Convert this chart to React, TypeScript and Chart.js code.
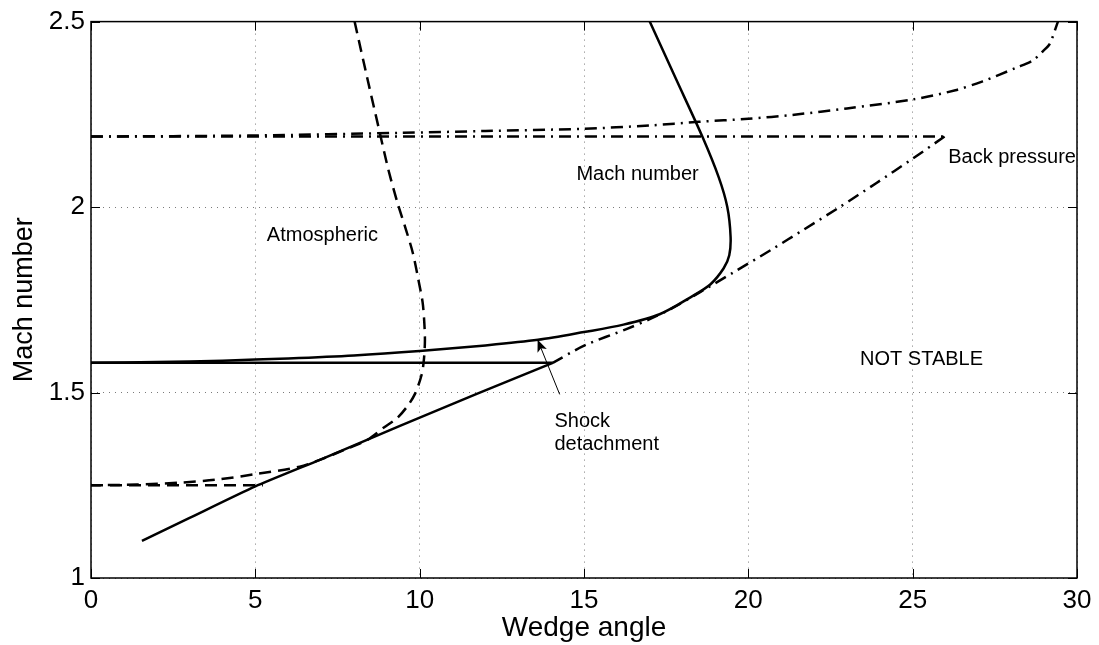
import React, { useEffect, useRef } from "react";
import { Chart, registerables } from "chart.js";

Chart.register(...registerables);

// ---------- data ----------
const xTicks = [0, 5, 10, 15, 20, 25, 30];
const yTicks = [1, 1.5, 2, 2.5];

// Solid "Mach number" curve (C-shaped)
const machX = [17.0, 17.8, 18.6, 19.1, 19.36, 19.46, 19.42, 19.25, 18.85, 18.3, 17.3, 16.2, 15.0, 13.6, 12.0, 10.0, 8.0, 6.0, 4.0, 2.0, 0];
const machY = [2.5, 2.345, 2.19, 2.08, 2.0, 1.92, 1.87, 1.835, 1.792, 1.76, 1.711, 1.683, 1.663, 1.642, 1.627, 1.612, 1.6, 1.592, 1.586, 1.582, 1.58];

// Solid horizontal line
const solidFlatX = [0, 14.05];
const solidFlatY = [1.58, 1.58];

// Solid lower line
const solidLowX = [1.55, 3.0, 5.0, 7.0, 9.4, 11.7, 14.05];
const solidLowY = [1.1, 1.162, 1.247, 1.32, 1.41, 1.495, 1.58];

// Dashed "Atmospheric" curve
const atmX = [8.02, 8.4, 8.78, 9.05, 9.33, 9.58, 9.79, 9.97, 10.09, 10.14, 10.16, 10.13, 10.06, 9.85, 9.6, 9.3, 8.9, 8.4, 7.7, 7.0, 6.35, 5.0, 3.8, 2.7, 1.4, 0];
const atmY = [2.5, 2.35, 2.203, 2.1, 2.01, 1.94, 1.877, 1.8, 1.743, 1.69, 1.64, 1.59, 1.548, 1.495, 1.46, 1.43, 1.405, 1.372, 1.345, 1.32, 1.3, 1.28, 1.265, 1.257, 1.252, 1.25];

// Dashed horizontal line
const atmFlatX = [0, 5.23];
const atmFlatY = [1.25, 1.25];

// Dash-dot "Back pressure" horizontal line
const backFlatX = [0, 25.97];
const backFlatY = [2.19, 2.19];

// Dash-dot return curve (lower)
const backLowX = [25.97, 24.99, 23.9, 22.78, 21.7, 20.7, 19.53, 18.52, 17.7, 17.0, 16.29, 15.02, 14.05];
const backLowY = [2.19, 2.13, 2.065, 2.0, 1.94, 1.885, 1.823, 1.77, 1.728, 1.698, 1.671, 1.627, 1.58];

// Dash-dot upper curve
const backHighX = [0, 5, 9.4, 12, 14.95, 17, 18.5, 20, 21.4, 23, 25, 26.3, 27.13, 28.16, 28.65, 28.96, 29.17, 29.42];
const backHighY = [2.19, 2.193, 2.2, 2.205, 2.211, 2.22, 2.23, 2.238, 2.249, 2.266, 2.29, 2.315, 2.339, 2.376, 2.395, 2.42, 2.44, 2.5];

// Arrow (tail -> tip)
const arrowX = [14.26, 13.59];
const arrowY = [1.495, 1.642];

// Text annotations (left x, baseline y, in data units)
const noteText = ["Atmospheric", "Mach number", "Back pressure", "NOT STABLE", "Shock", "detachment"];
const noteX = [5.35, 14.77, 26.08, 23.4, 14.1, 14.1];
const noteY = [1.909, 2.072, 2.12, 1.575, 1.406, 1.345];

const xTitle = "Wedge angle";
const yTitle = "Mach number";

// ---------- helpers ----------
const FONT = "'Liberation Sans', Arial, Helvetica, sans-serif";
const pts = (xs: number[], ys: number[]) => xs.map((x, i) => ({ x, y: ys[i] }));

const DASH = [12, 7];
const DASHDOT = [12, 6, 2, 6];

const overlayPlugin = {
  id: "matlabOverlay",
  afterDraw(chart: any) {
    const { ctx, chartArea: a } = chart;
    const xs = chart.scales.x;
    const ys = chart.scales.y;
    ctx.save();

    // arrowhead
    const tx = xs.getPixelForValue(arrowX[1]);
    const ty = ys.getPixelForValue(arrowY[1]);
    const sx = xs.getPixelForValue(arrowX[0]);
    const sy = ys.getPixelForValue(arrowY[0]);
    const ang = Math.atan2(ty - sy, tx - sx);
    const L = 12, W = 5, N = 9;
    ctx.fillStyle = "#000";
    ctx.beginPath();
    ctx.moveTo(tx, ty);
    ctx.lineTo(tx - L * Math.cos(ang) + W * Math.sin(ang), ty - L * Math.sin(ang) - W * Math.cos(ang));
    ctx.lineTo(tx - N * Math.cos(ang), ty - N * Math.sin(ang));
    ctx.lineTo(tx - L * Math.cos(ang) - W * Math.sin(ang), ty - L * Math.sin(ang) + W * Math.cos(ang));
    ctx.closePath();
    ctx.fill();

    // annotations
    ctx.font = "20px " + FONT;
    ctx.fillStyle = "#000";
    ctx.textAlign = "left";
    ctx.textBaseline = "alphabetic";
    noteText.forEach((t, i) => {
      ctx.fillText(t, xs.getPixelForValue(noteX[i]), ys.getPixelForValue(noteY[i]));
    });

    // frame
    ctx.strokeStyle = "#000";
    ctx.lineWidth = 1.5;
    ctx.strokeRect(a.left, a.top, a.right - a.left, a.bottom - a.top);

    // inward tick marks
    ctx.lineWidth = 1;
    const tl = 9;
    ctx.beginPath();
    xTicks.forEach((v) => {
      const p = Math.round(xs.getPixelForValue(v)) + 0.5;
      ctx.moveTo(p, a.bottom);
      ctx.lineTo(p, a.bottom - tl);
      ctx.moveTo(p, a.top);
      ctx.lineTo(p, a.top + tl);
    });
    yTicks.forEach((v) => {
      const p = Math.round(ys.getPixelForValue(v)) + 0.5;
      ctx.moveTo(a.left, p);
      ctx.lineTo(a.left + tl, p);
      ctx.moveTo(a.right, p);
      ctx.lineTo(a.right - tl, p);
    });
    ctx.stroke();
    ctx.restore();
  },
};

export default function App() {
  const ref = useRef<HTMLCanvasElement | null>(null);

  useEffect(() => {
    if (!ref.current) return;
    const line = (data: any[], dash: number[], width = 2.5, tension = 0.3) => ({
      data,
      showLine: true,
      borderColor: "#000",
      backgroundColor: "#000",
      borderWidth: width,
      borderDash: dash,
      pointRadius: 0,
      pointHoverRadius: 0,
      tension,
      fill: false,
    });

    const chart = new Chart(ref.current, {
      type: "scatter",
      data: {
        datasets: [
          line(pts(machX, machY), [], 2.5, 0.3),
          line(pts(solidFlatX, solidFlatY), [], 2.5, 0),
          line(pts(solidLowX, solidLowY), [], 2.5, 0.2),
          line(pts(atmX, atmY), DASH, 2.5, 0.3),
          line(pts(atmFlatX, atmFlatY), DASH, 2.5, 0),
          line(pts(backFlatX, backFlatY), DASHDOT, 2.5, 0),
          line(pts(backLowX, backLowY), DASHDOT, 2.5, 0.3),
          line(pts(backHighX, backHighY), DASHDOT, 2.5, 0.3),
          line(pts(arrowX, arrowY), [], 1, 0),
        ],
      },
      options: {
        responsive: false,
        animation: false,
        events: [],
        layout: { padding: { top: 17, right: 22, bottom: 0, left: 0 } },
        plugins: {
          legend: { display: false },
          tooltip: { enabled: false },
          title: { display: false },
        },
        scales: {
          x: {
            type: "linear",
            min: 0,
            max: 30,
            afterBuildTicks: (s: any) => {
              s.ticks = xTicks.map((v) => ({ value: v }));
            },
            afterFit: (s: any) => {
              s.height = 67;
            },
            ticks: {
              color: "#000",
              font: { family: FONT, size: 26 },
              padding: 7,
              maxRotation: 0,
              autoSkip: false,
              callback: (v: any) => String(v),
            },
            grid: { color: "#7a7a7a", lineWidth: 1, drawTicks: false },
            border: { display: false, dash: [1, 5] },
            title: {
              display: true,
              text: xTitle,
              color: "#000",
              font: { family: FONT, size: 28 },
              padding: { top: 0, bottom: 0 },
            },
          },
          y: {
            type: "linear",
            min: 1,
            max: 2.5,
            afterBuildTicks: (s: any) => {
              s.ticks = yTicks.map((v) => ({ value: v }));
            },
            afterFit: (s: any) => {
              s.width = 91;
            },
            ticks: {
              color: "#000",
              font: { family: FONT, size: 26 },
              padding: 6,
              autoSkip: false,
              callback: (v: any) => String(v),
            },
            grid: { color: "#7a7a7a", lineWidth: 1, drawTicks: false },
            border: { display: false, dash: [1, 5] },
            title: {
              display: true,
              text: yTitle,
              color: "#000",
              font: { family: FONT, size: 27 },
              padding: { top: 8, bottom: 0 },
            },
          },
        },
      },
      plugins: [overlayPlugin],
    } as any);

    return () => chart.destroy();
  }, []);

  return (
    <div style={{ position: "absolute", left: 0, top: 0, width: 1099, height: 645, background: "#fff" }}>
      <canvas ref={ref} width={1099} height={645} style={{ display: "block" }} />
    </div>
  );
}
